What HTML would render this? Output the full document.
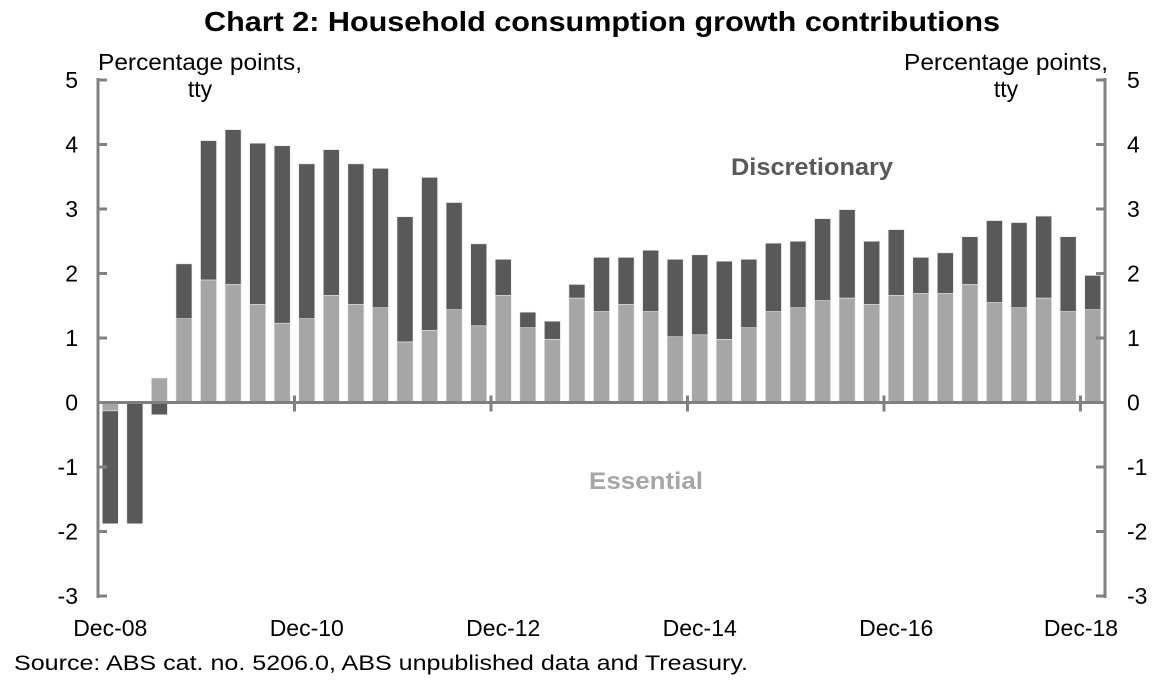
<!DOCTYPE html>
<html><head><meta charset="utf-8"><style>
body{margin:0;background:#fff;font-family:"Liberation Sans",Arial,sans-serif;}
svg text{font-family:"Liberation Sans",Arial,sans-serif;}
</style></head><body>
<svg id="c" width="1170" height="689" xmlns="http://www.w3.org/2000/svg">
<text x="602" y="31" text-anchor="middle" font-size="28" font-weight="bold" fill="#000" textLength="796" lengthAdjust="spacingAndGlyphs">Chart 2: Household consumption growth contributions</text>
<text x="200" y="70" text-anchor="middle" font-size="23" textLength="204" lengthAdjust="spacingAndGlyphs">Percentage points,</text>
<text x="200" y="97" text-anchor="middle" font-size="23">tty</text>
<text x="1006" y="70" text-anchor="middle" font-size="23" textLength="204" lengthAdjust="spacingAndGlyphs">Percentage points,</text>
<text x="1006" y="97" text-anchor="middle" font-size="23">tty</text>
<g id="bars"></g>
<g id="axes"></g>
<text x="812" y="175" text-anchor="middle" font-size="24" font-weight="bold" fill="#595959" textLength="162" lengthAdjust="spacingAndGlyphs">Discretionary</text>
<text x="646" y="489" text-anchor="middle" font-size="24" font-weight="bold" fill="#a6a6a6" textLength="114" lengthAdjust="spacingAndGlyphs">Essential</text>
<text x="14" y="670" font-size="21" textLength="734" lengthAdjust="spacingAndGlyphs">Source: ABS cat. no. 5206.0, ABS unpublished data and Treasury.</text>
</svg>
<script>
const essential=[-0.13,0,0.38,1.30,1.90,1.83,1.52,1.23,1.30,1.66,1.52,1.47,0.94,1.12,1.44,1.19,1.66,1.16,0.98,1.62,1.41,1.52,1.41,1.02,1.05,0.98,1.16,1.41,1.47,1.58,1.62,1.52,1.66,1.69,1.69,1.83,1.55,1.47,1.62,1.41,1.44];
const discretionary=[-1.75,-1.88,-0.19,0.85,2.16,2.40,2.50,2.75,2.40,2.26,2.18,2.16,1.94,2.37,1.66,1.27,0.56,0.24,0.28,0.21,0.84,0.73,0.95,1.20,1.24,1.21,1.06,1.06,1.03,1.27,1.37,0.98,1.02,0.56,0.63,0.74,1.27,1.32,1.27,1.16,0.53];
const yTicks=[5,4,3,2,1,0,-1,-2,-3];
const xLabels=["Dec-08","Dec-10","Dec-12","Dec-14","Dec-16","Dec-18"];
const NS='http://www.w3.org/2000/svg';
const X0=98,X1=1105,Y5=80,Ym3=596;
const n=essential.length,band=(X1-X0)/n;
const y=v=>Y5+(5-v)*(Ym3-Y5)/8;
const bx=i=>X0+band*(i+0.5);
function mk(t,a,p){const e=document.createElementNS(NS,t);for(const k in a)e.setAttribute(k,a[k]);p.appendChild(e);return e;}
const bars=document.getElementById('bars'),axes=document.getElementById('axes');
const bw=16;
for(let i=0;i<n;i++){
  const e=essential[i],d=discretionary[i];
  let pos=0,neg=0;
  const seg=(v,col,name)=>{
    let a,b;
    if(v>=0){a=pos;b=pos+v;pos=b;}else{a=neg;b=neg+v;neg=b;}
    const r=mk('rect',{x:bx(i)-bw/2,y:Math.min(y(a),y(b)),width:bw,height:Math.abs(y(a)-y(b)),fill:col,stroke:'#e8e8e8','stroke-width':0.6},bars);
    
    
  };
  seg(e,'#a6a6a6','essential');
  seg(d,'#595959','discretionary');
}
const ac='#808080';
let l=mk('line',{x1:X0,y1:Y5-2,x2:X0,y2:Ym3+2,stroke:ac,'stroke-width':3},axes);

l=mk('line',{x1:X1,y1:Y5-2,x2:X1,y2:Ym3+2,stroke:ac,'stroke-width':3},axes);

l=mk('line',{x1:X0,y1:y(0),x2:X1,y2:y(0),stroke:ac,'stroke-width':3},axes);

yTicks.forEach(v=>{
  let t=mk('line',{x1:X0,y1:y(v),x2:X0+9,y2:y(v),stroke:ac,'stroke-width':3},axes);
  
  t=mk('line',{x1:X1-9,y1:y(v),x2:X1,y2:y(v),stroke:ac,'stroke-width':3},axes);
  
  let tx=mk('text',{x:78,y:y(v)+8,'text-anchor':'end','font-size':23},axes);tx.textContent=v;
  
  tx=mk('text',{x:1127,y:y(v)+8,'text-anchor':'start','font-size':23},axes);tx.textContent=v;
  
});
for(let k=1;k<xLabels.length;k++){
  const xx=X0+band*8*k;
  const t=mk('line',{x1:xx,y1:y(0)-7,x2:xx,y2:y(0)+9,stroke:ac,'stroke-width':3},axes);
  
}
xLabels.forEach((s,k)=>{
  let xx=bx(k*8);
  if(k===xLabels.length-1)xx=Math.min(xx,1081);
  const tx=mk('text',{x:xx,y:636,'text-anchor':'middle','font-size':23},axes);tx.textContent=s;
  
});
</script>
</body></html>
